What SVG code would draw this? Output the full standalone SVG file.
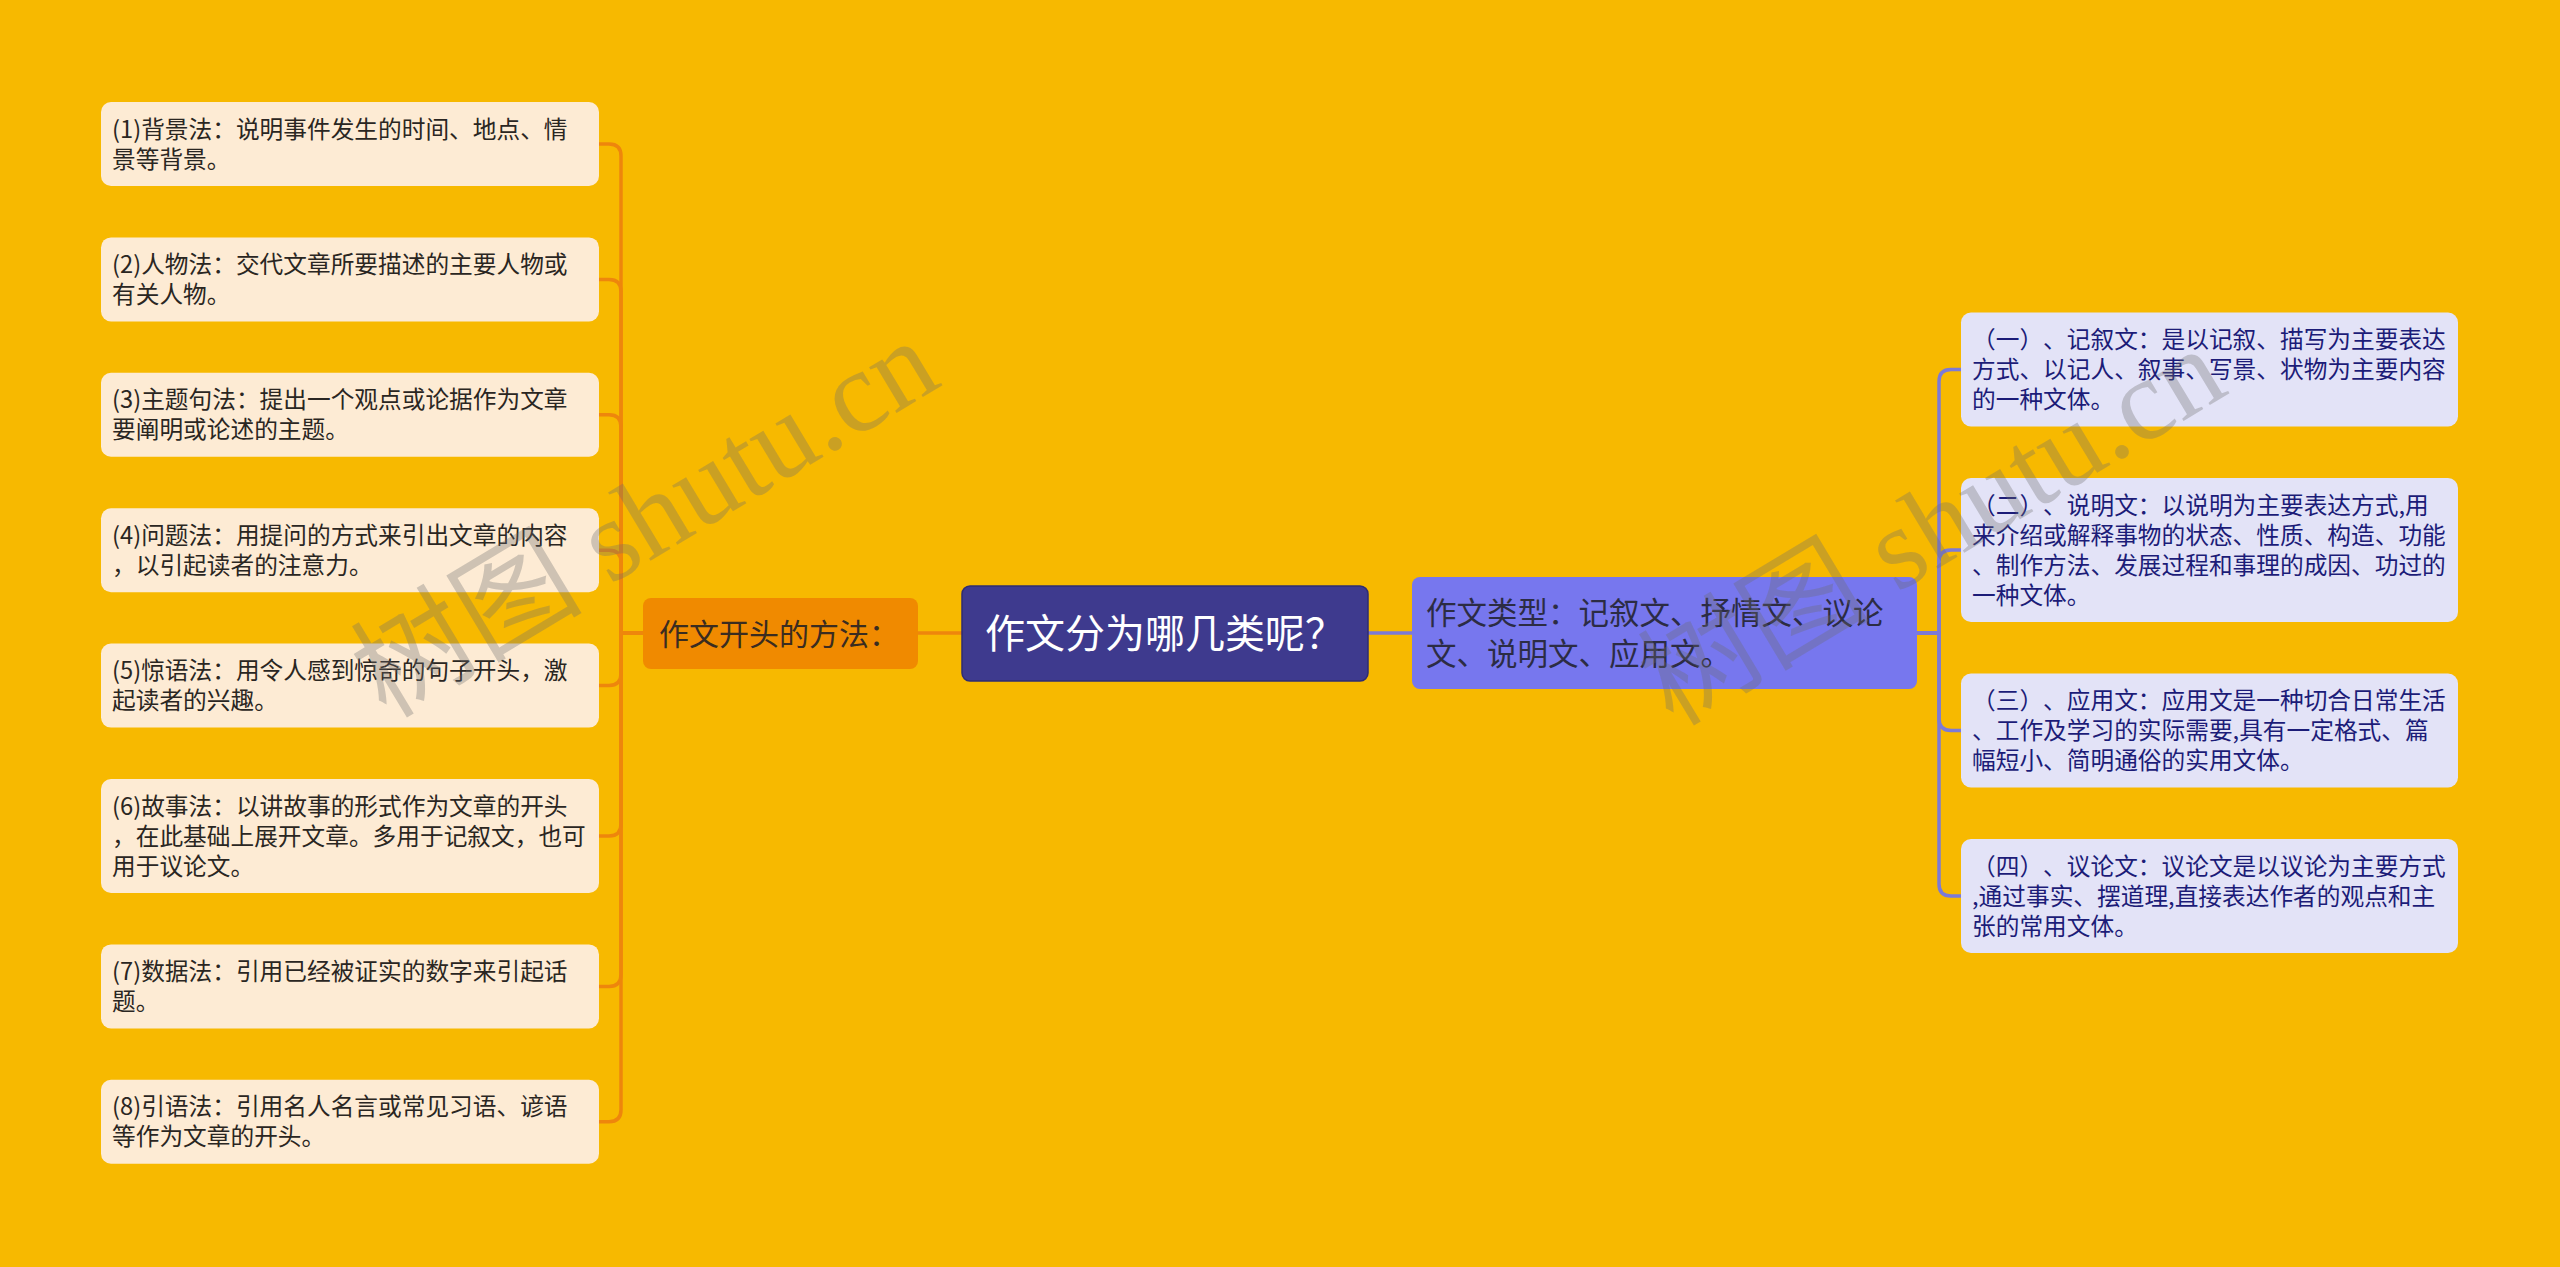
<svg xmlns="http://www.w3.org/2000/svg" width="2560" height="1267" viewBox="0 0 2560 1267">
<style>
.bg{fill:#F7B900}
.lleaf{fill:#FDEBD4}
.rleaf{fill:#E3E3F7}
.t{font-family:"Noto Sans CJK SC","Noto Sans",sans-serif;text-spacing-trim:space-all}
.lt{font-size:23.7px;fill:#2a2622}
.rt{font-size:23.7px;fill:#1c1c78}
.ocon{fill:none;stroke:#EE860C;stroke-width:3.5;stroke-linejoin:round}
.pcon{fill:none;stroke:#7C7AD6;stroke-width:3.5;stroke-linejoin:round}
.wm{font-family:"Liberation Serif","Noto Sans CJK SC",serif;font-size:116px;fill:#6e6e6e;fill-opacity:0.32;text-spacing-trim:space-all}
</style>
<rect class="bg" x="0" y="0" width="2560" height="1267"/>

<g id="connectors">
<path class="ocon" d="M918,633 H962"/>
<path class="pcon" d="M1368,633 H1412"/>
<path class="ocon" d="M643,633 H621 V156 Q621,144 609,144 H599"/>
<path class="ocon" d="M643,633 H621 V291.4 Q621,279.4 609,279.4 H599"/>
<path class="ocon" d="M643,633 H621 V426.8 Q621,414.8 609,414.8 H599"/>
<path class="ocon" d="M643,633 H621 V562.2 Q621,550.2 609,550.2 H599"/>
<path class="ocon" d="M643,633 H621 V673.6 Q621,685.6 609,685.6 H599"/>
<path class="ocon" d="M643,633 H621 V824 Q621,836 609,836 H599"/>
<path class="ocon" d="M643,633 H621 V974.4 Q621,986.4 609,986.4 H599"/>
<path class="ocon" d="M643,633 H621 V1109.8 Q621,1121.8 609,1121.8 H599"/>
<path class="pcon" d="M1917,633 H1939 V381.5 Q1939,369.5 1951,369.5 H1961"/>
<path class="pcon" d="M1917,633 H1939 V562 Q1939,550 1951,550 H1961"/>
<path class="pcon" d="M1917,633 H1939 V718.5 Q1939,730.5 1951,730.5 H1961"/>
<path class="pcon" d="M1917,633 H1939 V884 Q1939,896 1951,896 H1961"/>
</g>

<g id="root">
<rect x="962" y="586" width="406" height="95" rx="8" fill="#3E3A8E" stroke="#2F2C72" stroke-width="1.5"/>
<text class="t" x="1165" y="648" font-size="40" fill="#FFFFFF" text-anchor="middle">作文分为哪几类呢？</text>
</g>

<g id="methods">
<rect x="643" y="598" width="275" height="71" rx="8" fill="#F08A00"/>
<text class="t" x="659" y="644.5" font-size="30" fill="#3a2c20">作文开头的方法：</text>
</g>

<g id="types">
<rect x="1412" y="577" width="505" height="112" rx="8" fill="#7777EE"/>
<text class="t" font-size="30.5" fill="#2c2c44"><tspan x="1426" y="624">作文类型：记叙文、抒情文、议论</tspan><tspan x="1426" y="665">文、说明文、应用文。</tspan></text>
</g>

<g id="m1">
<rect class="lleaf" x="101" y="102" width="498" height="84" rx="10"/>
<text class="t lt"><tspan x="112" y="137.5">(1)背景法：说明事件发生的时间、地点、情</tspan><tspan x="112" y="167.5">景等背景。</tspan></text>
</g>
<g id="m2">
<rect class="lleaf" x="101" y="237.4" width="498" height="84" rx="10"/>
<text class="t lt"><tspan x="112" y="273">(2)人物法：交代文章所要描述的主要人物或</tspan><tspan x="112" y="303">有关人物。</tspan></text>
</g>
<g id="m3">
<rect class="lleaf" x="101" y="372.8" width="498" height="84" rx="10"/>
<text class="t lt"><tspan x="112" y="408.3">(3)主题句法：提出一个观点或论据作为文章</tspan><tspan x="112" y="438.3">要阐明或论述的主题。</tspan></text>
</g>
<g id="m4">
<rect class="lleaf" x="101" y="508.2" width="498" height="84" rx="10"/>
<text class="t lt"><tspan x="112" y="543.7">(4)问题法：用提问的方式来引出文章的内容</tspan><tspan x="112" y="573.7">，以引起读者的注意力。</tspan></text>
</g>
<g id="m5">
<rect class="lleaf" x="101" y="643.6" width="498" height="84" rx="10"/>
<text class="t lt"><tspan x="112" y="679.1">(5)惊语法：用令人感到惊奇的句子开头，激</tspan><tspan x="112" y="709.1">起读者的兴趣。</tspan></text>
</g>
<g id="m6">
<rect class="lleaf" x="101" y="779" width="498" height="114" rx="10"/>
<text class="t lt"><tspan x="112" y="814.5">(6)故事法：以讲故事的形式作为文章的开头</tspan><tspan x="112" y="844.5">，在此基础上展开文章。多用于记叙文，也可</tspan><tspan x="112" y="874.5">用于议论文。</tspan></text>
</g>
<g id="m7">
<rect class="lleaf" x="101" y="944.4" width="498" height="84" rx="10"/>
<text class="t lt"><tspan x="112" y="979.9">(7)数据法：引用已经被证实的数字来引起话</tspan><tspan x="112" y="1009.9">题。</tspan></text>
</g>
<g id="m8">
<rect class="lleaf" x="101" y="1079.8" width="498" height="84" rx="10"/>
<text class="t lt"><tspan x="112" y="1115.3">(8)引语法：引用名人名言或常见习语、谚语</tspan><tspan x="112" y="1145.3">等作为文章的开头。</tspan></text>
</g>

<g id="r1">
<rect class="rleaf" x="1961" y="312.5" width="497" height="114" rx="10"/>
<text class="t rt"><tspan x="1972" y="348">（一）、记叙文：是以记叙、描写为主要表达</tspan><tspan x="1972" y="378">方式、以记人、叙事、写景、状物为主要内容</tspan><tspan x="1972" y="408">的一种文体。</tspan></text>
</g>
<g id="r2">
<rect class="rleaf" x="1961" y="478" width="497" height="144" rx="10"/>
<text class="t rt"><tspan x="1972" y="513.5">（二）、说明文：以说明为主要表达方式,用</tspan><tspan x="1972" y="543.5">来介绍或解释事物的状态、性质、构造、功能</tspan><tspan x="1972" y="573.5">、制作方法、发展过程和事理的成因、功过的</tspan><tspan x="1972" y="603.5">一种文体。</tspan></text>
</g>
<g id="r3">
<rect class="rleaf" x="1961" y="673.5" width="497" height="114" rx="10"/>
<text class="t rt"><tspan x="1972" y="709">（三）、应用文：应用文是一种切合日常生活</tspan><tspan x="1972" y="739">、工作及学习的实际需要,具有一定格式、篇</tspan><tspan x="1972" y="769">幅短小、简明通俗的实用文体。</tspan></text>
</g>
<g id="r4">
<rect class="rleaf" x="1961" y="839" width="497" height="114" rx="10"/>
<text class="t rt"><tspan x="1972" y="874.5">（四）、议论文：议论文是以议论为主要方式</tspan><tspan x="1972" y="904.5">,通过事实、摆道理,直接表达作者的观点和主</tspan><tspan x="1972" y="934.5">张的常用文体。</tspan></text>
</g>

<g id="watermarks">
<text class="wm" text-anchor="middle" transform="translate(665,552) rotate(-31)">树图 shutu.cn</text>
<text class="wm" text-anchor="middle" transform="translate(1952,560) rotate(-31)">树图 shutu.cn</text>
</g>
</svg>
